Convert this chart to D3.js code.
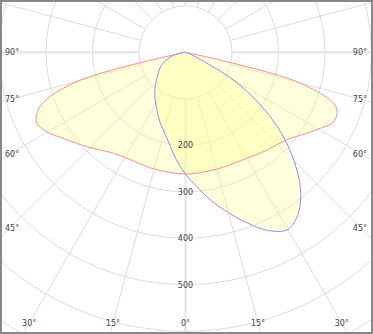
<!DOCTYPE html>
<html>
<head>
<meta charset="utf-8">
<script src="https://cdn.jsdelivr.net/npm/d3@7"></script>
<style>
  body { margin: 0; background: #fff; }
  text { font-family: "DejaVu Sans", sans-serif; font-size: 8px; fill: #444; }
</style>
</head>
<body>
<div id="chart"></div>
<script>
// gamma angles (deg from nadir) and intensities (cd) per C-plane
const gammaAngles = [0, 5, 10, 15, 20, 25, 30, 35, 40, 45, 50, 55, 60, 65, 70, 75, 80, 85, 90];
const c0   = [262, 261, 260, 260, 260, 261, 263, 268, 274, 280, 290, 308, 330, 352, 345, 255, 0, 0, 0];
const c180 = [262, 261, 260, 260, 259, 259, 261, 266, 276, 290, 305, 322, 343, 354, 330, 240, 0, 0, 0];
const c90  = [262, 291, 325, 357, 391, 423, 440, 423, 385, 330, 268, 195, 118, 30, 8, 0, 0, 0, 0];
const c270 = [262, 231, 200, 177, 160, 143, 128, 115, 102, 90, 78, 70, 62, 52, 40, 28, 18, 8, 0];

const ringValues = [100, 200, 300, 400, 500, 600, 700];
const ringLabels = [200, 300, 400, 500];
const angleLabels = [90, 75, 60, 45, 30, 15, 0];

const width = 373, height = 334;
const cx = 185.5, cy = 52.3;

const r = d3.scaleLinear().domain([0, 100]).range([0, 46.5]);

const svg = d3.select("#chart").append("svg")
    .attr("width", width)
    .attr("height", height);

svg.append("clipPath").attr("id", "frameClip")
  .append("rect")
    .attr("x", 2).attr("y", 2)
    .attr("width", width - 4).attr("height", height - 4);

const plot = svg.append("g").attr("clip-path", "url(#frameClip)");

// polar -> screen, gamma from straight down, side -1 = left, +1 = right
function pt(gamma, value, side) {
    const a = gamma * Math.PI / 180;
    return [cx + side * r(value) * Math.sin(a), cy + r(value) * Math.cos(a)];
}

// rings
plot.selectAll(".ring")
  .data(ringValues)
  .enter().append("circle")
    .attr("class", "ring")
    .attr("cx", cx).attr("cy", cy)
    .attr("r", d => r(d))
    .attr("fill", "none")
    .attr("stroke", "#dcdcdc")
    .attr("stroke-width", 1);

// spokes every 15 deg, starting at the first ring
const spokes = d3.range(0, 360, 15);
plot.selectAll(".spoke")
  .data(spokes)
  .enter().append("line")
    .attr("class", "spoke")
    .attr("x1", d => cx + r(100) * Math.sin(d * Math.PI / 180))
    .attr("y1", d => cy + r(100) * Math.cos(d * Math.PI / 180))
    .attr("x2", d => cx + r(800) * Math.sin(d * Math.PI / 180))
    .attr("y2", d => cy + r(800) * Math.cos(d * Math.PI / 180))
    .attr("stroke", d => d % 90 === 0 ? "#e4e4e4" : "#dcdcdc")
    .attr("stroke-width", d => d % 90 === 0 ? 2 : 1);

// intensity curves; the centre point is doubled so the curve runs straight into it
function curvePoints(right, left) {
    const pts = [];
    gammaAngles.forEach((g, i) => {
        if (right[i] > 0) pts.push(pt(g, right[i], 1));
    });
    pts.push([cx, cy]);
    pts.push([cx, cy]);
    for (let i = gammaAngles.length - 1; i > 0; i--) {
        if (left[i] > 0) pts.push(pt(gammaAngles[i], left[i], -1));
    }
    return pts;
}

const line = d3.line().curve(d3.curveCatmullRomClosed.alpha(0.5));

const curves = [
    {name: "C0-C180", right: c0, left: c180, stroke: "#ff8c8c"},
    {name: "C90-C270", right: c90, left: c270, stroke: "#8c8cff"}
];

plot.selectAll(".fill")
  .data(curves)
  .enter().append("path")
    .attr("class", "fill")
    .attr("d", d => line(curvePoints(d.right, d.left)))
    .attr("fill", "#ffff8c")
    .attr("fill-opacity", 0.3)
    .attr("stroke", "none");

plot.selectAll(".outline")
  .data(curves)
  .enter().append("path")
    .attr("class", "outline")
    .attr("d", d => line(curvePoints(d.right, d.left)))
    .attr("fill", "none")
    .attr("stroke", d => d.stroke)
    .attr("stroke-width", 1);

// ring value labels
svg.selectAll(".ringLabel")
  .data(ringLabels)
  .enter().append("text")
    .attr("class", "ringLabel")
    .attr("x", cx)
    .attr("y", d => cy + r(d))
    .attr("text-anchor", "middle")
    .attr("dy", "0.35em")
    .text(d => d);

// angle labels where the spokes meet the frame
const sideX = 176, bottomY = 323;
const angleLabelData = [];
angleLabels.forEach(a => {
    const sides = a === 0 ? [1] : [-1, 1];
    sides.forEach(s => {
        const rad = a * Math.PI / 180;
        const ySide = cy + sideX / Math.tan(rad || 1e-9);
        if (a !== 0 && ySide <= bottomY) {
            angleLabelData.push({a: a, x: s < 0 ? 5 : 367, y: ySide, anchor: s < 0 ? "start" : "end"});
        } else {
            angleLabelData.push({a: a, x: cx + s * (bottomY - cy) * Math.tan(rad), y: bottomY, anchor: "middle"});
        }
    });
});

svg.selectAll(".angleLabel")
  .data(angleLabelData)
  .enter().append("text")
    .attr("class", "angleLabel")
    .attr("x", d => d.x)
    .attr("y", d => d.y)
    .attr("dy", "0.35em")
    .attr("text-anchor", d => d.anchor)
    .text(d => d.a + "°");

// frame
svg.append("rect")
    .attr("x", 1).attr("y", 1)
    .attr("width", width - 2).attr("height", height - 2)
    .attr("fill", "none")
    .attr("stroke", "#888")
    .attr("stroke-width", 2);
</script>
</body>
</html>
